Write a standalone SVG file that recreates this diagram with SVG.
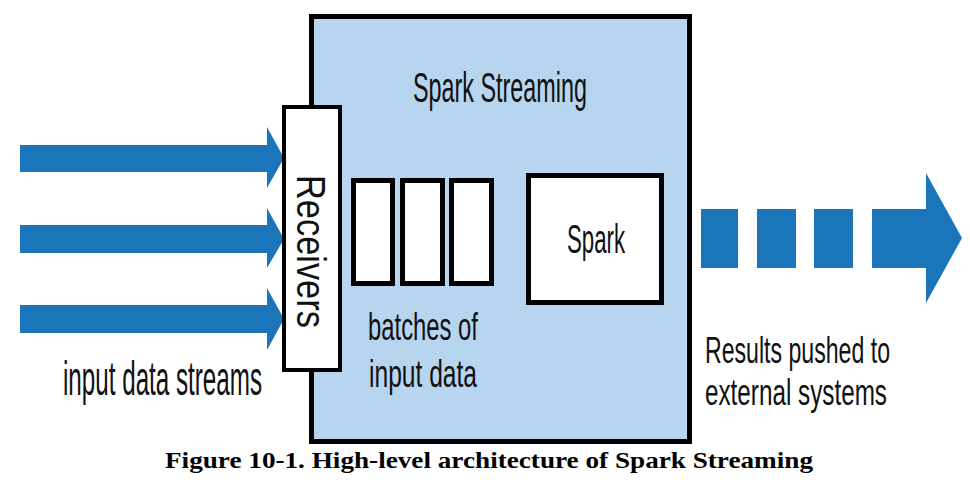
<svg xmlns="http://www.w3.org/2000/svg" width="970" height="489" viewBox="0 0 970 489">
<style>
.lbl{font-family:"Liberation Sans",Arial,sans-serif;fill:#111;}
.arrow{fill:#1b75bb;}
.box{fill:#ffffff;stroke:#000;stroke-width:5;}
.cap{font-family:"Liberation Serif","Times New Roman",serif;font-weight:bold;font-size:24px;fill:#000;}
</style>
<rect x="0" y="0" width="970" height="489" fill="#ffffff"/>
<g id="spark-streaming">
<rect x="311.5" y="16.5" width="378" height="425" fill="#b7d5ee" stroke="#000" stroke-width="5"/>
<text class="lbl" transform="translate(413,102) scale(0.56,1)" x="0" y="0" font-size="42" textLength="310.7" lengthAdjust="spacingAndGlyphs">Spark Streaming</text>
</g>
<g id="connectors">
<polygon class="arrow" points="20,145 267,145 267,127 284,158 267,188 267,172 20,172"/>
<polygon class="arrow" points="20,225 267,225 267,208 284,239 267,268 267,253 20,253"/>
<polygon class="arrow" points="20,305 267,305 267,288 284,319 267,350 267,333 20,333"/>
<g id="output-arrow">
<rect class="arrow" x="701" y="209" width="37" height="59"/>
<rect class="arrow" x="757" y="209" width="39" height="59"/>
<rect class="arrow" x="814" y="209" width="39" height="59"/>
<polygon class="arrow" points="872,209 926,209 926,173 962,238 926,303 926,268 872,268"/>
</g>
</g>
<g id="receivers">
<rect x="284" y="107" width="56" height="263" fill="#fff" stroke="#000" stroke-width="4"/>
<text class="lbl" transform="translate(297,175) rotate(90) scale(0.56,1)" x="0" y="0" font-size="40" textLength="273" lengthAdjust="spacingAndGlyphs">Receivers</text>
</g>
<g id="batches">
<rect class="box" x="353.5" y="180.5" width="39" height="103"/>
<rect class="box" x="402.5" y="180.5" width="40" height="103"/>
<rect class="box" x="451.5" y="180.5" width="40" height="103"/>
<text class="lbl" transform="translate(368,340) scale(0.56,1)" x="0" y="0" font-size="38" textLength="196.4" lengthAdjust="spacingAndGlyphs">batches of</text>
<text class="lbl" transform="translate(369,387) scale(0.56,1)" x="0" y="0" font-size="38" textLength="192.9" lengthAdjust="spacingAndGlyphs">input data</text>
</g>
<g id="spark">
<rect class="box" x="528.5" y="175.5" width="133" height="127"/>
<text class="lbl" transform="translate(567,253) scale(0.56,1)" x="0" y="0" font-size="40" textLength="103.6" lengthAdjust="spacingAndGlyphs">Spark</text>
</g>
<g id="labels">
<text class="lbl" transform="translate(63,395) scale(0.56,1)" x="0" y="0" font-size="48" textLength="355.4" lengthAdjust="spacingAndGlyphs">input data streams</text>
<text class="lbl" transform="translate(705,363) scale(0.56,1)" x="0" y="0" font-size="37" textLength="330.4" lengthAdjust="spacingAndGlyphs">Results pushed to</text>
<text class="lbl" transform="translate(705,405) scale(0.56,1)" x="0" y="0" font-size="37" textLength="325" lengthAdjust="spacingAndGlyphs">external systems</text>
</g>
<text class="cap" x="165" y="468" textLength="648" lengthAdjust="spacingAndGlyphs">Figure 10-1. High-level architecture of Spark Streaming</text>
</svg>
